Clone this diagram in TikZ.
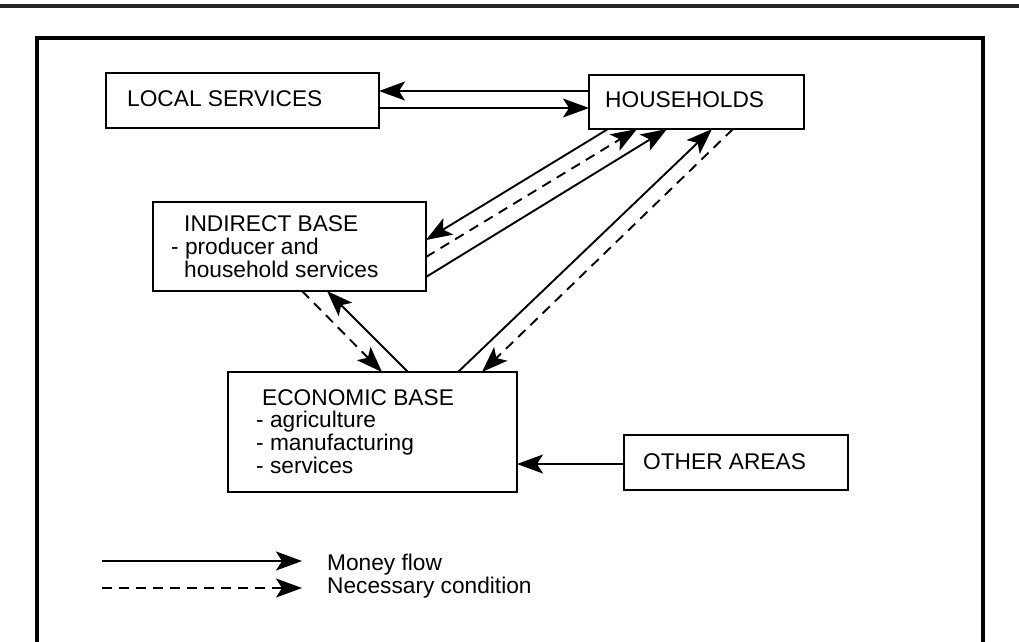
\documentclass[tikz,border=0pt]{standalone}
\usepackage{fontspec}
\setmainfont{Liberation Sans}
\usetikzlibrary{arrows.meta}
\begin{document}
\begin{tikzpicture}[x=1pt,y=-1pt,
  box/.style={draw, line width=1.8pt, inner sep=0pt, outer sep=0pt},
  txt/.style={inner sep=0pt, anchor=base west, font=\fontsize{22.7}{27}\selectfont},
  money/.style={line width=1.9pt, -{Stealth[length=26pt,width=19pt,inset=6pt]}},
  cond/.style={money, dash pattern=on 10pt off 7pt}]
\useasboundingbox (0,0) rectangle (1019,641);
\clip (0,0) rectangle (1019,641);
% top rule and frame
\draw[line width=4pt, black!85] (0,6) -- (1019,6);
\draw[line width=4.5pt] (37,680) -- (37,38) -- (983,38) -- (983,680);
% boxes
\node[box, minimum width=273pt, minimum height=55pt] (local) at (242.5,100.5) {};
\node[box, minimum width=215pt, minimum height=54pt] (hh) at (696.5,102) {};
\node[box, minimum width=273pt, minimum height=89pt] (ib) at (289.5,246.5) {};
\node[box, minimum width=289pt, minimum height=120pt] (eb) at (372.5,432) {};
\node[box, minimum width=224pt, minimum height=55pt] (oa) at (736,462.5) {};
% texts
\node[txt] (localt) at (127,106) {LOCAL SERVICES};
\node[txt] (hht) at (605,107) {HOUSEHOLDS};
\node[txt] (ib1) at (184,231) {INDIRECT BASE};
\node[txt] (ib2) at (171,254) {- producer and};
\node[txt] (ib3) at (184,277) {household services};
\node[txt] (eb1) at (262,405) {ECONOMIC BASE};
\node[txt] (eb2) at (256,427.7) {- agriculture};
\node[txt] (eb3) at (256,450.3) {- manufacturing};
\node[txt] (eb4) at (256,473) {- services};
\node[txt] (oat) at (643,469) {OTHER AREAS};
% connectors
\draw[money] ([yshift=-16pt]hh.north west) -- ([yshift=-18pt]local.north east);
\draw[money] ([yshift=-35pt]local.north east) -- ([yshift=-33pt]hh.north west);
\draw[money] ([xshift=19pt]hh.south west) -- ([yshift=-38pt]ib.north east);
\draw[cond] ([yshift=-55pt]ib.north east) -- ([xshift=48pt]hh.south west);
\draw[money] ([yshift=-75pt]ib.north east) -- ([xshift=78pt]hh.south west);
\draw[money] ([xshift=230pt]eb.north west) -- ([xshift=123pt]hh.south west);
\draw[cond] ([xshift=144pt]hh.south west) -- ([xshift=254pt]eb.north west);
\draw[money] ([xshift=180pt]eb.north west) -- ([xshift=174pt]ib.south west);
\draw[cond] ([xshift=149pt]ib.south west) -- ([xshift=154pt]eb.north west);
\draw[money] ([yshift=-29pt]oa.north west) -- ([yshift=-92pt]eb.north east);
% legend
\coordinate (l1a) at (102,561);
\coordinate (l1b) at (302,561);
\coordinate (l2a) at (102,588);
\coordinate (l2b) at (302,588);
\draw[money] (l1a) -- (l1b);
\draw[cond] (l2a) -- (l2b);
\node[txt] (leg1) at (327,570) {Money flow};
\node[txt] (leg2) at (327,593) {Necessary condition};
\end{tikzpicture}
\end{document}
